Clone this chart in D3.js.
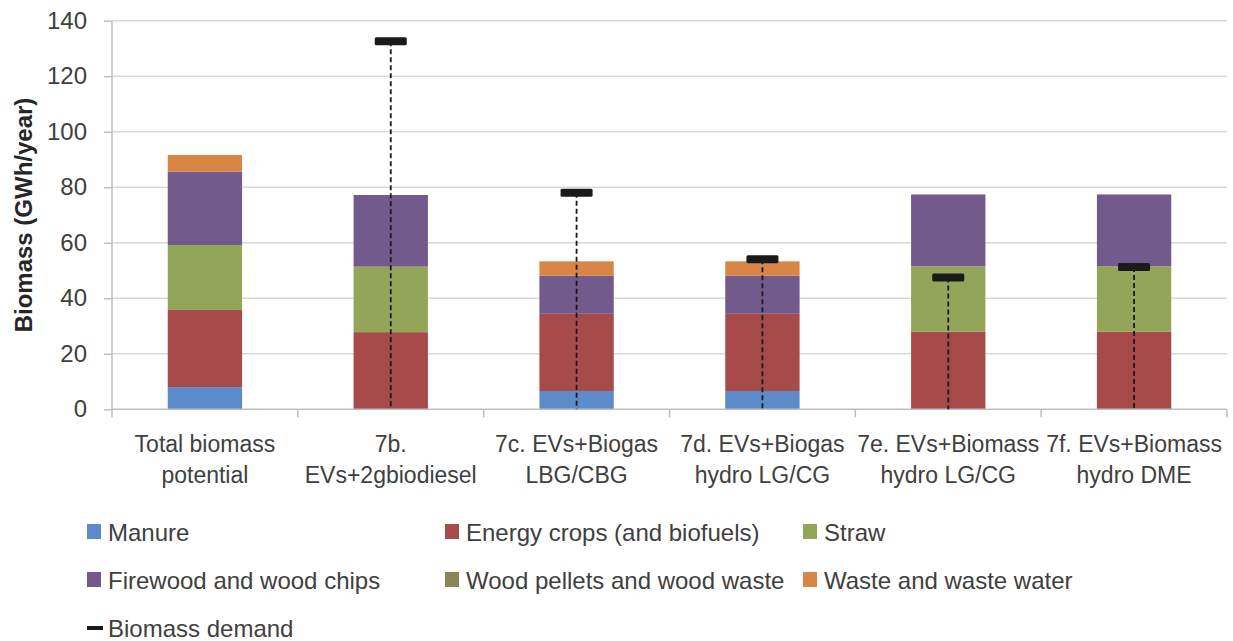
<!DOCTYPE html>
<html lang="en">
<head>
<meta charset="utf-8">
<title>biomass</title>
<script src="https://cdn.jsdelivr.net/npm/d3@7"></script>
<style>
  body { margin: 0; background: #fff; }
  text { font-family: "Liberation Sans", Arial, sans-serif; fill: #404040; }
</style>
</head>
<body>
<div id="chart"></div>
<script>
// category labels (two lines each)
var categories = [
  ["Total biomass", "potential"],
  ["7b.", "EVs+2gbiodiesel"],
  ["7c. EVs+Biogas", "LBG/CBG"],
  ["7d. EVs+Biogas", "hydro LG/CG"],
  ["7e. EVs+Biomass", "hydro LG/CG"],
  ["7f. EVs+Biomass", "hydro DME"]
]
// series values, GWh/year
var manure      = [8.0, 0, 6.6, 6.6, 0, 0]
var energyCrops = [27.8, 27.8, 27.8, 27.8, 28.0, 28.0]
var straw       = [23.4, 23.6, 0, 0, 23.5, 23.5]
var firewood    = [26.4, 25.8, 13.7, 13.7, 25.9, 25.9]
var woodPellets = [0, 0, 0, 0, 0, 0]
var waste       = [6.0, 0, 5.2, 5.2, 0, 0]
var demand      = [null, 132.6, 78.0, 54.1, 47.5, 51.3]

var seriesNames = ["Manure", "Energy crops (and biofuels)", "Straw",
  "Firewood and wood chips", "Wood pellets and wood waste", "Waste and waste water"]
var yTicks = [0, 20, 40, 60, 80, 100, 120, 140]

var colors = ["#5b8bc8", "#a64b4a", "#92a558", "#735a8c", "#8b8655", "#d98546"]

var W = 1233, H = 641
var pLeft = 112, pRight = 1227, pTop = 20.7, pBottom = 409.3
var fs = "24px"

var svg = d3.select("#chart").append("svg").attr("width", W).attr("height", H)

var yScale = d3.scaleLinear().domain([0, 140]).range([pBottom, pTop])
var xScale = d3.scaleBand().domain(d3.range(categories.length)).range([pLeft, pRight]).padding(0)

// table for stack
var rows = categories.map(function(c, i){
  return { i: i, s0: manure[i], s1: energyCrops[i], s2: straw[i], s3: firewood[i], s4: woodPellets[i], s5: waste[i] }
})
var stacked = d3.stack().keys(["s0","s1","s2","s3","s4","s5"])(rows)

// gridlines
svg.append("g").selectAll("line").data(yTicks.filter(function(d){ return d > 0 }))
  .enter().append("line")
  .attr("x1", pLeft).attr("x2", pRight)
  .attr("y1", function(d){ return yScale(d) }).attr("y2", function(d){ return yScale(d) })
  .attr("stroke", "#d9d9d9").attr("stroke-width", 1.5)

// y axis
var yAxis = d3.axisLeft(yScale).tickValues(yTicks).tickSize(8).tickPadding(17)
var gy = svg.append("g").attr("transform", "translate(" + pLeft + ",0)").call(yAxis)
gy.select(".domain").attr("stroke", "#bfbfbf").attr("stroke-width", 1.5).attr("d", "M0," + pBottom + "V" + pTop)
gy.selectAll(".tick line").attr("stroke", "#bfbfbf").attr("stroke-width", 1.5)
gy.selectAll(".tick text").style("font-size", fs).style("fill", "#404040").attr("font-family", null)

// bars
var bw = xScale.bandwidth() * 0.4
svg.append("g").selectAll("g").data(stacked).enter().append("g")
  .attr("fill", function(d, k){ return colors[k] })
  .selectAll("rect").data(function(d){ return d }).enter().append("rect")
  .attr("x", function(d){ return xScale(d.data.i) + (xScale.bandwidth() - bw) / 2 })
  .attr("width", bw)
  .attr("y", function(d){ return yScale(d[1]) })
  .attr("height", function(d){ return yScale(d[0]) - yScale(d[1]) })

// x axis line + ticks between categories
svg.append("line").attr("x1", pLeft).attr("x2", pRight).attr("y1", pBottom).attr("y2", pBottom)
  .attr("stroke", "#bfbfbf").attr("stroke-width", 1.5)
var bounds = d3.range(categories.length + 1).map(function(i){
  return i < categories.length ? xScale(i) : pRight
})
svg.append("g").selectAll("line").data(bounds).enter().append("line")
  .attr("x1", function(d){ return d }).attr("x2", function(d){ return d })
  .attr("y1", pBottom).attr("y2", pBottom + 8)
  .attr("stroke", "#bfbfbf").attr("stroke-width", 1.5)

// category labels
var lab = svg.append("g").selectAll("text").data(categories).enter().append("text")
  .attr("text-anchor", "middle")
  .style("font-size", "23px")
lab.append("tspan")
  .attr("x", function(d, i){ return xScale(i) + xScale.bandwidth() / 2 })
  .attr("y", 452)
  .text(function(d){ return d[0] })
lab.append("tspan")
  .attr("x", function(d, i){ return xScale(i) + xScale.bandwidth() / 2 })
  .attr("y", 483)
  .text(function(d){ return d[1] })

// demand markers and dashed lines
var dem = demand.map(function(v, i){ return { i: i, v: v } }).filter(function(d){ return d.v != null })
svg.append("g").selectAll("line").data(dem).enter().append("line")
  .attr("x1", function(d){ return xScale(d.i) + xScale.bandwidth() / 2 })
  .attr("x2", function(d){ return xScale(d.i) + xScale.bandwidth() / 2 })
  .attr("y1", function(d){ return yScale(d.v) })
  .attr("y2", yScale(0))
  .attr("stroke", "#1a1a1a").attr("stroke-width", 1.8)
  .style("stroke-dasharray", "5,3")
svg.append("g").selectAll("rect").data(dem).enter().append("rect")
  .attr("x", function(d){ return xScale(d.i) + xScale.bandwidth() / 2 - 16 })
  .attr("y", function(d){ return yScale(d.v) - 4 })
  .attr("width", 32).attr("height", 8).attr("rx", 1.5)
  .attr("fill", "#1a1a1a")

// y label
svg.append("text")
  .attr("transform", "translate(32," + ((pTop + pBottom) / 2) + ") rotate(-90)")
  .attr("text-anchor", "middle")
  .style("font-size", "24px").style("font-weight", "bold").style("fill", "#262626")
  .text("Biomass (GWh/year)")

// legend
var legX = [87, 445, 803]
var legY = [541, 589]
var leg = svg.append("g").selectAll("g").data(seriesNames).enter().append("g")
  .attr("transform", function(d, k){ return "translate(" + legX[k % 3] + "," + legY[Math.floor(k / 3)] + ")" })
leg.append("rect").attr("x", 0).attr("y", -17).attr("width", 14).attr("height", 15)
  .attr("fill", function(d, k){ return colors[k] })
leg.append("text").attr("x", 21).attr("y", 0).style("font-size", fs).text(function(d){ return d })

var leg2 = svg.append("g").attr("transform", "translate(" + legX[0] + ",637)")
leg2.append("rect").attr("x", 0).attr("y", -11).attr("width", 16).attr("height", 4).attr("fill", "#1a1a1a")
leg2.append("text").attr("x", 21).attr("y", 0).style("font-size", fs).text("Biomass demand")
</script>
</body>
</html>
